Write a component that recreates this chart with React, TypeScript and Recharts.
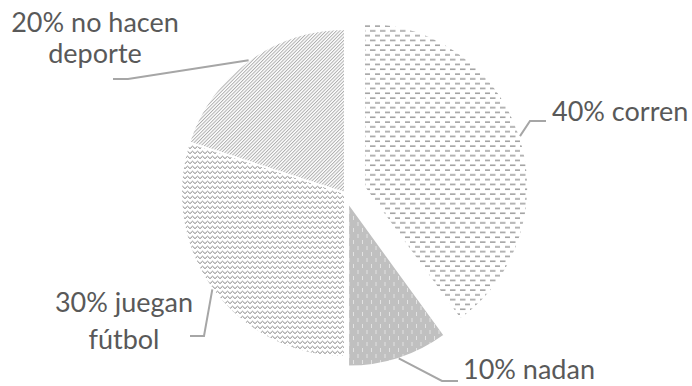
import React from 'react';
import { PieChart, Pie, Cell } from 'recharts';

const categories = ['corren', 'nadan', 'juegan fútbol', 'no hacen deporte'];
const shares = [40, 10, 30, 20];
const labelLines = [['40% corren'], ['10% nadan'], ['30% juegan', 'fútbol'], ['20% no hacen', 'deporte']];

const data = categories.map((name, i) => ({ name, value: shares[i] }));
const total = shares.reduce((a, b) => a + b, 0);

const CX = 345;
const CY = 193;
const R = 164;
const RAD = Math.PI / 180;

const fills = ['url(#pCorren)', 'url(#pNadan)', 'url(#pFutbol)', 'url(#pDeporte)'];
// how far each slice is pulled out of the pie
const explode = [20, 10, 0, 0];

// label placement relative to the pie centre
const layout = [
  { elbow: [185, -72], tail: 16, anchor: 'start', tx: 207, ty: [-72] },
  { elbow: [97, 188], tail: 16, anchor: 'start', tx: 118, ty: [186] },
  { elbow: [-141, 143], tail: -14, anchor: 'middle', tx: -221, ty: [119, 156] },
  { elbow: [-217, -114], tail: -15, anchor: 'middle', tx: -250, ty: [-161, -130] },
];

const midAngle = (i: number) => {
  const before = shares.slice(0, i).reduce((a, b) => a + b, 0);
  return 90 - (360 * (before + shares[i] / 2)) / total;
};

const makeLabel = (slot: number) => (props: any) => {
  if (props.index !== slot) return null;
  const { cx, cy, outerRadius } = props;
  const a = midAngle(slot);
  const x0 = cx + outerRadius * Math.cos(a * RAD);
  const y0 = cy - outerRadius * Math.sin(a * RAD);
  const l = layout[slot];
  const ex = CX + l.elbow[0];
  const ey = CY + l.elbow[1];
  return (
    <g>
      <polyline
        points={`${x0},${y0} ${ex},${ey} ${ex + l.tail},${ey}`}
        fill="none"
        stroke="#a6a6a6"
        strokeWidth={2}
      />
      {labelLines[slot].map((t, k) => (
        <text
          key={k}
          x={CX + l.tx}
          y={CY + l.ty[k]}
          textAnchor={l.anchor}
          fill="#595959"
          fontSize={27}
          fontFamily="Lato, sans-serif"
        >
          {t}
        </text>
      ))}
    </g>
  );
};

export default function App() {
  return (
    <div style={{ position: 'absolute', left: 0, top: 0, background: '#fff' }}>
      <PieChart width={692} height={386} margin={{ top: 0, right: 0, bottom: 0, left: 0 }}>
        <defs>
          <pattern id="pCorren" patternUnits="userSpaceOnUse" width={10} height={9.6}>
            <rect width={10} height={9.6} fill="#fff" />
            <rect x={0} y={1.5} width={5.5} height={1.1} fill="#7a7a7a" />
            <rect x={5} y={6.3} width={5.5} height={1.1} fill="#7a7a7a" />
          </pattern>
          <pattern id="pNadan" patternUnits="userSpaceOnUse" width={9} height={12}>
            <rect width={9} height={12} fill="#c0c0c0" />
            <rect x={2} y={0} width={1} height={4} fill="#e2e2e2" />
            <rect x={6.5} y={6} width={1} height={4} fill="#e2e2e2" />
          </pattern>
          <pattern id="pFutbol" patternUnits="userSpaceOnUse" width={5} height={5}>
            <rect width={5} height={5} fill="#fff" />
            <path d="M0 3.6 L2.5 1.2 L5 3.6" fill="none" stroke="#858585" strokeWidth={1} />
          </pattern>
          <pattern
            id="pDeporte"
            patternUnits="userSpaceOnUse"
            width={2.4}
            height={4}
            patternTransform="rotate(45)"
          >
            <rect width={2.4} height={4} fill="#fff" />
            <line x1={0.5} y1={0} x2={0.5} y2={4} stroke="#a8a8a8" strokeWidth={0.9} />
          </pattern>
        </defs>
        {categories.map((_, slot) => {
          const a = midAngle(slot);
          const d = explode[slot];
          return (
            <Pie
              key={slot}
              data={data}
              dataKey="value"
              nameKey="name"
              cx={CX + d * Math.cos(a * RAD)}
              cy={CY - d * Math.sin(a * RAD)}
              outerRadius={R}
              startAngle={90}
              endAngle={-270}
              isAnimationActive={false}
              labelLine={false}
              label={makeLabel(slot)}
            >
              {data.map((_, i) => (
                <Cell
                  key={i}
                  fill={i === slot ? fills[i] : 'transparent'}
                  stroke={i === slot ? '#fff' : 'none'}
                  strokeWidth={2}
                />
              ))}
            </Pie>
          );
        })}
      </PieChart>
    </div>
  );
}
